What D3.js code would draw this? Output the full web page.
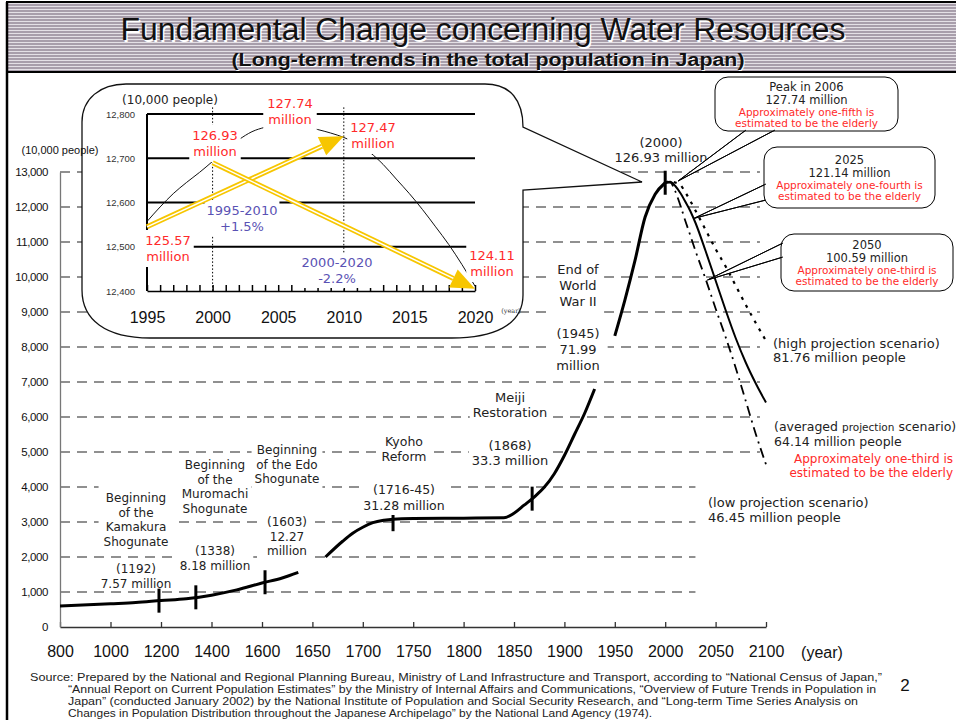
<!DOCTYPE html>
<html>
<head>
<meta charset="utf-8">
<script src="https://cdn.jsdelivr.net/npm/d3@7"></script>
<style>
  body { margin: 0; background: #fff; }
  svg { display: block; }
</style>
</head>
<body>
<div id="chart"></div>
<script>
// ---------------- data ----------------
var xTicks = [800, 1000, 1200, 1400, 1600, 1650, 1700, 1750, 1800, 1850, 1900, 1950, 2000, 2050, 2100];
var yTicks = [0, 1000, 2000, 3000, 4000, 5000, 6000, 7000, 8000, 9000, 10000, 11000, 12000, 13000];

// total population, 10,000 people
var histYears  = [800, 1000, 1100, 1200, 1300, 1400, 1500, 1600, 1620, 1636, 1650, 1663, 1680, 1690, 1700, 1710, 1721, 1730, 1750, 1800, 1840, 1850, 1860, 1870, 1880, 1890, 1900, 1910, 1920, 1930, 1940, 1945, 1950, 1960, 1970, 1980, 1990, 2000];
var histValues = [600, 665, 700, 757, 810, 910, 1060, 1257, 1400, 1560, 1781, 2000, 2450, 2680, 2850, 2980, 3050, 3080, 3100, 3110, 3120, 3250, 3480, 3714, 3990, 4380, 4900, 5500, 6100, 6800, 7400, 7199, 8320, 9342, 10467, 11706, 12361, 12693];
var histGaps = [[1637, 1662], [1931, 1949]];   // stretches left blank in the drawing

var projYears  = [2000, 2005, 2010, 2015, 2020, 2025, 2030, 2040, 2050, 2060, 2070, 2080, 2090, 2100];
var projHigh   = [12693, 12740, 12700, 12630, 12420, 12170, 11900, 11350, 10800, 10300, 9750, 9200, 8680, 8176];
var projMedium = [12693, 12720, 12600, 12400, 12150, 11880, 11550, 10750, 9900, 9050, 8250, 7550, 6950, 6414];
var projLow    = [12693, 12700, 12450, 12050, 11600, 11180, 10750, 9950, 9100, 8280, 7400, 6450, 5500, 4645];

var markerYears = [1192, 1338, 1603, 1730, 1868, 2000];

// inset: 1995-2020
var insetYears  = [1995, 1996, 1997, 1998, 1999, 2000, 2001, 2002, 2003, 2004, 2005, 2006, 2007, 2008, 2009, 2010, 2011, 2012, 2013, 2014, 2015, 2016, 2017, 2018, 2019, 2020];
var insetValues = [12557, 12590, 12620, 12645, 12668, 12693, 12720, 12742, 12760, 12770, 12775, 12774, 12772, 12765, 12757, 12747, 12733, 12713, 12686, 12653, 12620, 12584, 12545, 12505, 12460, 12411];
var insetXTicks = [1995, 2000, 2005, 2010, 2015, 2020];
var insetYTicks = [12400, 12500, 12600, 12700, 12800];
var insetArrowFrom = [[1995, 12545], [2000, 12690]];
var insetArrowTo   = [[2010, 12750], [2020, 12405]];

// ---------------- setup ----------------
var W = 956, H = 720;
var svg = d3.select("#chart").append("svg").attr("width", W).attr("height", H);
var SANS = "'Liberation Sans', Arial, sans-serif";
var VERD = "'DejaVu Sans', Verdana, sans-serif";
var RED = "#ff2a2a", BLUE = "#5a52b4";

// title band with stripes
var defs = svg.append("defs");
var pat = defs.append("pattern").attr("id", "stripes").attr("patternUnits", "userSpaceOnUse")
  .attr("width", 8).attr("height", 3);
pat.append("rect").attr("width", 8).attr("height", 3).attr("fill", "#a89eab");
pat.append("rect").attr("width", 8).attr("height", 1).attr("fill", "#e4e0e6");

svg.append("rect").attr("x", 7).attr("y", 2).attr("width", W).attr("height", 70)
  .attr("fill", "url(#stripes)").attr("stroke", "#000").attr("stroke-width", 2);
svg.append("line").attr("x1", 7).attr("x2", 7).attr("y1", 2).attr("y2", H)
  .attr("stroke", "#000").attr("stroke-width", 2.5);

[["#fff", 1.5], ["#111", 0]].forEach(function(s) {
  svg.append("text").attr("x", 483 + s[1]).attr("y", 40 + s[1]).attr("text-anchor", "middle")
    .attr("font-family", SANS).attr("font-size", 31).attr("fill", s[0])
    .attr("textLength", 725).attr("lengthAdjust", "spacingAndGlyphs")
    .text("Fundamental Change concerning Water Resources");
  svg.append("text").attr("x", 488 + s[1] * 0.7).attr("y", 66 + s[1] * 0.7).attr("text-anchor", "middle")
    .attr("font-family", SANS).attr("font-size", 18).attr("font-weight", "bold").attr("fill", s[0])
    .attr("textLength", 513).attr("lengthAdjust", "spacingAndGlyphs")
    .text("(Long-term trends in the total population in Japan)");
});

// ---------------- main scales ----------------
var x = d3.scaleLinear().domain([800, 1600, 2100]).range([60, 262, 766]);
var y = d3.scaleLinear().domain([0, 13000]).range([627, 172]);

var g = svg.append("g");

// dashed gridlines
g.selectAll(".grid").data(yTicks.filter(function(d) { return d > 0; })).enter().append("line")
  .attr("x1", x(800)).attr("x2", function(d) { return d <= 4000 ? x(2030) : x(2094); })
  .attr("y1", function(d) { return y(d); }).attr("y2", function(d) { return y(d); })
  .attr("stroke", "#222").attr("stroke-width", 1.2).attr("stroke-dasharray", "10,7");

// axes
var xAxis = g.append("g").attr("transform", "translate(0," + y(0) + ")")
  .call(d3.axisBottom(x).tickValues(xTicks).tickSize(-5).tickSizeOuter(0).tickPadding(19)
    .tickFormat(d3.format("d")));
xAxis.selectAll("text").attr("font-family", SANS).attr("font-size", 16).attr("fill", "#111");
xAxis.selectAll("line, path").attr("stroke", "#333").attr("stroke-width", 1.3);
g.append("text").attr("x", 822).attr("y", y(0) + 31).attr("text-anchor", "middle")
  .attr("font-family", SANS).attr("font-size", 16).attr("fill", "#111").text("(year)");

var yAxis = g.append("g").attr("transform", "translate(" + x(800) + ",0)")
  .call(d3.axisLeft(y).tickValues(yTicks).tickSize(0).tickPadding(12).tickFormat(d3.format(",")));
yAxis.selectAll("text").attr("font-family", SANS).attr("font-size", 11.5).attr("fill", "#111")
  .attr("letter-spacing", -0.4);
yAxis.select("path").attr("stroke", "#777").attr("stroke-width", 1.3);

// label helper: lines of text, optional white box behind
function label(parent, lines, lx, ly, o) {
  o = Object.assign({ size: 12, lh: 14.5, color: "#222", anchor: "middle", family: VERD, bg: true, pad: 3 }, o || {});
  var lg = parent.append("g");
  var t = lg.append("text").attr("text-anchor", o.anchor).attr("font-family", o.family)
    .attr("font-size", o.size).attr("fill", o.color);
  lines.forEach(function(s, i) {
    var ts = t.append("tspan").attr("x", lx).attr("y", ly + i * o.lh);
    if (typeof s === "string") ts.text(s);
    else s.forEach(function(p) { ts.append("tspan").attr("font-size", p[1]).text(p[0]); });
  });
  if (o.bg) {
    var b = t.node().getBBox();
    lg.insert("rect", "text").attr("x", b.x - o.pad).attr("y", b.y - o.pad)
      .attr("width", b.width + 2 * o.pad).attr("height", b.height + 2 * o.pad).attr("fill", "#fff");
  }
  return lg;
}

// ---------------- population curves ----------------
var hist = histYears.map(function(d, i) { return [d, histValues[i]]; });
var lineGen = d3.line().x(function(d) { return x(d[0]); }).y(function(d) { return y(d[1]); })
  .curve(d3.curveMonotoneX);
var curves = g.append("g").attr("fill", "none").attr("stroke", "#000");
curves.append("path").datum(hist)
  .attr("d", lineGen.defined(function(d) {
    return !histGaps.some(function(gp) { return d[0] > gp[0] && d[0] < gp[1]; });
  }))
  .attr("stroke-width", 3);
lineGen.defined(function() { return true; });

function proj(vals) { return projYears.map(function(d, i) { return [d, vals[i]]; }); }
curves.append("path").datum(proj(projHigh)).attr("d", lineGen)
  .attr("stroke-width", 2.2).attr("stroke-dasharray", "3,6");
curves.append("path").datum(proj(projLow)).attr("d", lineGen)
  .attr("stroke-width", 1.8).attr("stroke-dasharray", "10,5,2,5");
curves.append("path").datum(proj(projMedium)).attr("d", lineGen)
  .attr("stroke-width", 2);

// event markers on the curve
var histAt = d3.scaleLinear().domain(histYears).range(histValues);
curves.selectAll(".mk").data(markerYears).enter().append("line")
  .attr("x1", function(d) { return x(d); }).attr("x2", function(d) { return x(d); })
  .attr("y1", function(d) { return y(histAt(d)) - 12; }).attr("y2", function(d) { return y(histAt(d)) + 12; })
  .attr("stroke-width", 3);

// ---------------- annotations (white boxes cut the lines below) ----------------
var labels = g.append("g");
label(labels, ["Beginning", "of the", "Kamakura", "Shogunate"], 136, 502, { pad: 5 });
label(labels, ["(1192)", "7.57 million"], 136, 573, { bg: false });
label(labels, ["Beginning", "of the", "Muromachi", "Shogunate"], 215, 469);
label(labels, ["(1338)", "8.18 million"], 215, 555);
label(labels, ["Beginning", "of the Edo", "Shogunate"], 287, 454);
label(labels, ["(1603)", "12.27", "million"], 287, 526);
label(labels, ["Kyoho", "Reform"], 404, 446, { size: 12.5, lh: 15 });
label(labels, ["(1716-45)", "31.28 million"], 404, 494, { size: 12.5, lh: 16, pad: 2 });
label(labels, ["Meiji", "Restoration"], 510, 402, { size: 13, lh: 15 });
label(labels, ["(1868)", "33.3 million"], 510, 450, { size: 13, lh: 15 });
label(labels, ["End of", "World", "War II"], 578, 274, { size: 13, lh: 16, pad: 5 });
label(labels, ["(1945)", "71.99", "million"], 578, 338, { size: 13, lh: 16, pad: 8 });
label(labels, ["(high projection scenario)", "81.76 million people"], 773, 348, { size: 13, lh: 14, anchor: "start" });
label(labels, [[["(averaged ", 12.5], ["projection", 10.5], [" scenario)", 12.5]], "64.14 million people"],
  774, 431, { size: 12.5, lh: 15, anchor: "start" });
label(labels, ["Approximately one-third is", "estimated to be the elderly"], 953, 463,
  { size: 12, lh: 14, anchor: "end", color: RED });
label(labels, ["(low projection scenario)", "46.45 million people"], 708, 507, { size: 13, lh: 14.5, anchor: "start" });

// ---------------- callouts on the right ----------------
function callout(bx, by, bw, bh, tail, lines, cy) {
  var cg = svg.append("g");
  cg.append("path").attr("d", "M" + tail[0] + "L" + tail[1] + "L" + tail[2] + "Z")
    .attr("fill", "#fff").attr("stroke", "#000").attr("stroke-width", 1);
  cg.append("rect").attr("x", bx).attr("y", by).attr("width", bw).attr("height", bh)
    .attr("rx", 13).attr("fill", "#fff").attr("stroke", "#000").attr("stroke-width", 1);
  cg.append("path").attr("d", "M" + tail[0] + "L" + tail[1] + "L" + tail[2])
    .attr("fill", "none").attr("stroke", "#000").attr("stroke-width", 1);
  var cx = bx + bw / 2;
  label(cg, lines.slice(0, 2), cx, cy, { size: 11.5, lh: 12.5, color: "#222", bg: false });
  label(cg, lines.slice(2), cx, cy + 25, { size: 10.5, lh: 11, color: RED, bg: false });
}
callout(715, 77, 183, 54, [[746, 130], [x(2006) + 7, y(12774) + 1], [775, 130]],
  ["Peak in 2006", "127.74 million", "Approximately one-fifth is", "estimated to be the elderly"], 91);
callout(764, 147, 171, 61, [[766, 184], [x(2025) + 4, y(11880) + 7], [766, 200]],
  ["2025", "121.14 million", "Approximately one-fourth is", "estimated to be the elderly"], 164);
callout(781, 234, 172, 57, [[783, 243], [x(2050) - 8, y(10059) + 5], [783, 257]],
  ["2050", "100.59 million", "Approximately one-third is", "estimated to be the elderly"], 249);

label(g, ["(2000)", "126.93 million"], 661, 147, { size: 13, lh: 15, pad: 3 });

// ---------------- inset bubble ----------------
var inset = svg.append("g");
inset.append("path")
  .attr("d", "M523,190 L523,295 C523,326 492,338 452,338 L150,338 C106,338 82,320 82,290 " +
    "L82,122 C82,99 100,84 126,84 L485,84 C511,84 523,101 523,127 L642,182 Z")
  .attr("fill", "#fff").attr("stroke", "#111").attr("stroke-width", 1.3);

var ix = d3.scaleLinear().domain([1995, 2020]).range([147, 475]);
var iy = d3.scaleLinear().domain([12400, 12800]).range([291, 114]);

inset.selectAll(".ig").data(insetYTicks.slice(1)).enter().append("line")
  .attr("x1", ix(1995)).attr("x2", ix(2020))
  .attr("y1", function(d) { return iy(d); }).attr("y2", function(d) { return iy(d); })
  .attr("stroke", "#000").attr("stroke-width", 2);
inset.append("line").attr("x1", ix(1995)).attr("x2", ix(1995)).attr("y1", iy(12800)).attr("y2", iy(12400))
  .attr("stroke", "#000").attr("stroke-width", 2);
[2000, 2010].forEach(function(yr) {
  inset.append("line").attr("x1", ix(yr)).attr("x2", ix(yr)).attr("y1", iy(12815)).attr("y2", iy(12400))
    .attr("stroke", "#000").attr("stroke-width", 1).attr("stroke-dasharray", "1.5,2");
});

var ixAxis = inset.append("g").attr("transform", "translate(0," + iy(12400) + ")")
  .call(d3.axisBottom(ix).tickValues(insetYears).tickSize(-6).tickSizeOuter(0).tickPadding(21)
    .tickFormat(function(d) { return insetXTicks.indexOf(d) >= 0 ? d : ""; }));
ixAxis.selectAll("text").attr("font-family", SANS).attr("font-size", 16).attr("fill", "#111");
ixAxis.selectAll("line, path").attr("stroke", "#000").attr("stroke-width", 1.5);

insetYTicks.forEach(function(v) {
  inset.append("text").attr("x", 135).attr("y", iy(v) + 3.5).attr("text-anchor", "end")
    .attr("font-family", SANS).attr("font-size", 9.5).attr("fill", "#333").text(d3.format(",")(v));
});

// inset labels with white boxes (they cut the lines behind them)
var ilab = inset.append("g");
label(ilab, ["127.74", "million"], 290, 108, { size: 13, lh: 16, color: RED, pad: 4 });
label(ilab, ["126.93", "million"], 215, 140, { size: 13, lh: 16, color: RED, pad: 3 });
label(ilab, ["127.47", "million"], 373, 132, { size: 13, lh: 16, color: RED, pad: 3 });
label(ilab, ["125.57", "million"], 168, 245, { size: 13, lh: 16, color: RED, pad: 3 });
label(ilab, ["124.11", "million"], 492, 260, { size: 13, lh: 16, color: RED, pad: 3 });

var icurve = d3.line().x(function(d) { return ix(d[0]); }).y(function(d) { return iy(d[1]); })
  .curve(d3.curveMonotoneX);
inset.insert("path", "g").datum(insetYears.map(function(d, i) { return [d, insetValues[i]]; }))
  .attr("d", icurve).attr("fill", "none").attr("stroke", "#111").attr("stroke-width", 1);

label(inset, ["1995-2010", "+1.5%"], 242, 215, { size: 13, lh: 16, color: BLUE, pad: 2 });
label(inset, ["2000-2020", "-2.2%"], 337, 267, { size: 13, lh: 16, color: BLUE, pad: 2 });

// yellow double arrows
var YEL = "#f7c600";
insetArrowFrom.forEach(function(f, i) {
  var t = insetArrowTo[i];
  var x0 = ix(f[0]), y0 = iy(f[1]), x1 = ix(t[0]), y1 = iy(t[1]);
  var ang = Math.atan2(y1 - y0, x1 - x0), len = 24, wid = 10;
  var bx = x1 - len * Math.cos(ang), by = y1 - len * Math.sin(ang);
  inset.append("line").attr("x1", x0).attr("y1", y0).attr("x2", bx).attr("y2", by)
    .attr("stroke", YEL).attr("stroke-width", 5);
  inset.append("line").attr("x1", x0).attr("y1", y0).attr("x2", bx).attr("y2", by)
    .attr("stroke", "#fff").attr("stroke-width", 1.5);
  var px = -Math.sin(ang) * wid, py = Math.cos(ang) * wid;
  inset.append("path").attr("d", "M" + x1 + "," + y1 + "L" + (bx + px) + "," + (by + py) +
      "L" + (bx - px) + "," + (by - py) + "Z").attr("fill", YEL);
});

inset.append("text").attr("x", 170).attr("y", 104).attr("text-anchor", "middle")
  .attr("font-family", VERD).attr("font-size", 12).attr("fill", "#222").text("(10,000 people)");
inset.append("text").attr("x", 511).attr("y", 313).attr("text-anchor", "middle")
  .attr("font-family", "'DejaVu Serif', serif").attr("font-size", 6.5).attr("fill", "#333").text("(year)");

// main y unit (drawn over the bubble edge)
svg.append("text").attr("x", 60).attr("y", 154).attr("text-anchor", "middle")
  .attr("font-family", SANS).attr("font-size", 11).attr("fill", "#111").text("(10,000 people)");

// ---------------- source note ----------------
var src = [
  ["Source: Prepared by the National and Regional Planning Bureau, Ministry of Land Infrastructure and Transport, according to \u201cNational Census of Japan,\u201d", 30, 852],
  ["\u201cAnnual Report on Current Population Estimates\u201d by the Ministry of Internal Affairs and Communications, \u201cOverview of Future Trends in Population in", 68, 808],
  ["Japan\u201d (conducted January 2002) by the National Institute of Population and Social Security Research, and \u201cLong-term Time Series Analysis on", 68, 790],
  ["Changes in Population Distribution throughout the Japanese Archipelago\u201d by the National Land Agency (1974).", 68, 584]
];
src.forEach(function(s, i) {
  svg.append("text").attr("x", s[1]).attr("y", 681 + i * 12).attr("font-family", SANS)
    .attr("font-size", 10.5).attr("fill", "#222")
    .attr("textLength", s[2]).attr("lengthAdjust", "spacingAndGlyphs").text(s[0]);
});
svg.append("text").attr("x", 905).attr("y", 691).attr("text-anchor", "middle")
  .attr("font-family", SANS).attr("font-size", 17).attr("fill", "#111").text("2");
</script>
</body>
</html>
